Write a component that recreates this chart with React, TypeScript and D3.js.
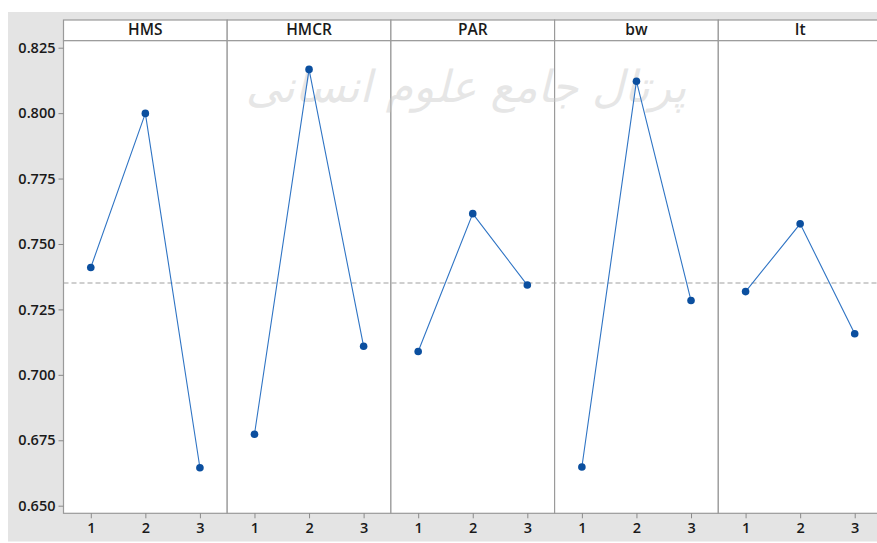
import * as d3 from "d3";
import { useEffect, useRef } from "react";

// factor panels and level means
const factors = ["HMS", "HMCR", "PAR", "bw", "It"];
const levels = [1, 2, 3];
const hmsMeans = [0.741, 0.7999, 0.6645];
const hmcrMeans = [0.6773, 0.8167, 0.7109];
const parMeans = [0.7089, 0.7616, 0.7343];
const bwMeans = [0.6648, 0.8122, 0.7284];
const itMeans = [0.7318, 0.7577, 0.7157];
const grandMean = 0.7351;
const yTicks = [0.65, 0.675, 0.7, 0.725, 0.75, 0.775, 0.8, 0.825];
const watermark = "پرتال جامع علوم انسانی";

const seriesByFactor = [hmsMeans, hmcrMeans, parMeans, bwMeans, itMeans];

export default function App() {
  const ref = useRef<SVGSVGElement>(null);

  useEffect(() => {
    if (!ref.current) return;
    const svg = d3.select(ref.current);
    svg.selectAll("*").remove();

    const width = 877,
      height = 543;
    const left = 63.5,
      panelW = 163.7,
      headTop = 20,
      plotTop = 40.7,
      plotBottom = 513.3;
    const font = "'Open Sans', 'Noto Sans', sans-serif";

    svg.attr("width", width).attr("height", height);

    // gray backdrop
    svg.append("rect")
      .attr("x", 8).attr("y", 12)
      .attr("width", width - 8).attr("height", 541.5 - 12)
      .attr("fill", "#e4e4e4");

    const y = d3.scaleLinear().domain([0.65, 0.825]).range([505.7, 47.7]);

    factors.forEach((f, i) => {
      const x0 = left + i * panelW;
      const x = d3.scaleLinear().domain([0.5, 3.5]).range([x0, x0 + panelW]);

      // header strip
      svg.append("rect")
        .attr("x", x0).attr("y", headTop)
        .attr("width", panelW).attr("height", plotTop - headTop)
        .attr("fill", "#fff").attr("stroke", "#9a9a9a").attr("stroke-width", 1.2);
      svg.append("text")
        .attr("x", x0 + panelW / 2).attr("y", 35)
        .attr("text-anchor", "middle")
        .attr("font-family", font).attr("font-weight", 600)
        .attr("font-size", "15.5px").attr("fill", "#1a1a1a")
        .text(f);

      // plot area
      svg.append("rect")
        .attr("x", x0).attr("y", plotTop)
        .attr("width", panelW).attr("height", plotBottom - plotTop)
        .attr("fill", "#fff").attr("stroke", "#9a9a9a").attr("stroke-width", 1.2);

      // x axis
      const ax = svg.append("g")
        .attr("transform", `translate(0, ${plotBottom})`)
        .call(d3.axisBottom(x).tickValues(levels).tickSize(5).tickPadding(4).tickFormat(d3.format("d")));
      ax.select(".domain").remove();
      ax.selectAll("line").attr("stroke", "#8a8a8a");
      ax.selectAll("text")
        .attr("font-family", font).attr("font-weight", 600)
        .attr("font-size", "14.5px").attr("fill", "#1a1a1a");
    });

    // watermark
    svg.append("text")
      .attr("x", 466).attr("y", 102)
      .attr("text-anchor", "middle")
      .attr("direction", "rtl")
      .attr("font-family", "'DejaVu Sans', sans-serif")
      .attr("font-size", "44px")
      .attr("font-style", "italic")
      .attr("fill", "#c8c8c8")
      .attr("opacity", 0.45)
      .text(watermark);

    // mean reference line
    svg.append("line")
      .attr("x1", left).attr("x2", width)
      .attr("y1", y(grandMean)).attr("y2", y(grandMean))
      .attr("stroke", "#a0a0a0").attr("stroke-width", 1.2)
      .attr("stroke-dasharray", "5,3");

    // y axis
    const ay = svg.append("g")
      .attr("transform", `translate(${left}, 0)`)
      .call(d3.axisLeft(y).tickValues(yTicks).tickSize(5).tickPadding(3).tickFormat(d3.format(".3f")));
    ay.select(".domain").remove();
    ay.selectAll("line").attr("stroke", "#8a8a8a");
    ay.selectAll("text")
      .attr("font-family", font).attr("font-weight", 600)
      .attr("font-size", "14.5px").attr("fill", "#1a1a1a");

    // lines & markers
    seriesByFactor.forEach((vals, i) => {
      const x0 = left + i * panelW;
      const x = d3.scaleLinear().domain([0.5, 3.5]).range([x0, x0 + panelW]);
      const pts = vals.map((v, j) => [levels[j], v] as [number, number]);
      const line = d3.line<[number, number]>().x((d) => x(d[0])).y((d) => y(d[1]));
      svg.append("path")
        .datum(pts)
        .attr("d", line)
        .attr("fill", "none")
        .attr("stroke", "#2f74c4")
        .attr("stroke-width", 1.1);
      svg.append("g")
        .selectAll("circle")
        .data(pts)
        .enter()
        .append("circle")
        .attr("cx", (d) => x(d[0]))
        .attr("cy", (d) => y(d[1]))
        .attr("r", 3.8)
        .attr("fill", "#0b4f9f");
    });
  }, []);

  return (
    <svg
      ref={ref}
      style={{ position: "absolute", left: 0, top: 0, display: "block" }}
    />
  );
}
